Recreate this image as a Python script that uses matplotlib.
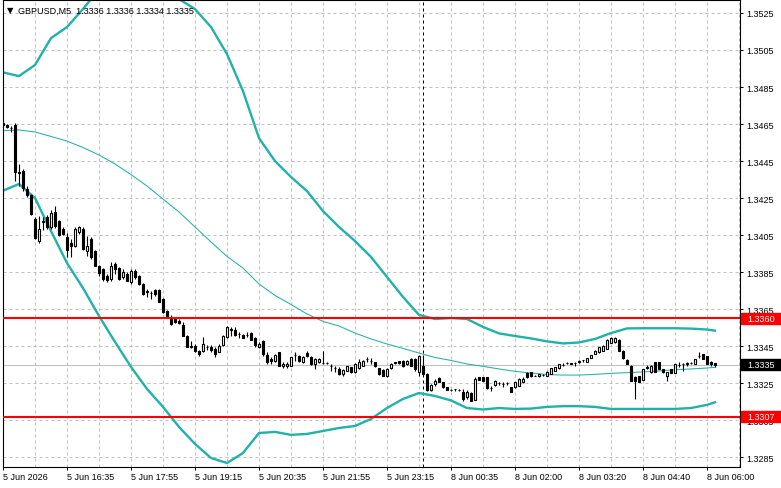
import numpy as np
import matplotlib
matplotlib.use("Agg")
import matplotlib.pyplot as plt
import matplotlib.transforms as mtransforms
from matplotlib.patches import Rectangle

plt.rcParams['font.family'] = ['Liberation Sans', 'DejaVu Sans']

# GBPUSD M5 candles, 5 Jun 15:15 .. 8 Jun 06:10 (bar index 0..178)
opens = [
    1.34655, 1.34645, 1.34628, 1.34645, 1.34391, 1.34396, 1.34299, 1.34266, 1.34137, 1.34020,
    1.34126, 1.34148, 1.34094, 1.34175, 1.34126, 1.34083, 1.34040, 1.34007, 1.33993, 1.34067,
    1.34083, 1.33964, 1.34029, 1.33964, 1.33885, 1.33867, 1.33829, 1.33813, 1.33894, 1.33872,
    1.33824, 1.33840, 1.33795, 1.33858, 1.33831, 1.33786, 1.33748, 1.33737, 1.33753, 1.33755,
    1.33705, 1.33642, 1.33607, 1.33597, 1.33588, 1.33565, 1.33507, 1.33451, 1.33453, 1.33426,
    1.33426, 1.33446, 1.33448, 1.33435, 1.33421, 1.33457, 1.33498, 1.33543, 1.33537, 1.33516,
    1.33511, 1.33512, 1.33521, 1.33493, 1.33448, 1.33480, 1.33403, 1.33381, 1.33372, 1.33417,
    1.33342, 1.33345, 1.33345, 1.33403, 1.33395, 1.33366, 1.33413, 1.33390, 1.33354, 1.33363,
    1.33361, 1.33361, 1.33345, 1.33331, 1.33327, 1.33300, 1.33318, 1.33336, 1.33309, 1.33331,
    1.33345, 1.33381, 1.33372, 1.33363, 1.33331, 1.33324, 1.33287, 1.33331, 1.33363, 1.33368,
    1.33372, 1.33354, 1.33381, 1.33381, 1.33309, 1.33345, 1.33300, 1.33215, 1.33246, 1.33277,
    1.33256, 1.33229, 1.33215, 1.33219, 1.33214, 1.33204, 1.33174, 1.33197, 1.33160, 1.33282,
    1.33282, 1.33282, 1.33225, 1.33241, 1.33251, 1.33246, 1.33251, 1.33229, 1.33229, 1.33237,
    1.33256, 1.33305, 1.33309, 1.33291, 1.33287, 1.33294, 1.33291, 1.33300, 1.33318, 1.33331,
    1.33350, 1.33361, 1.33358, 1.33361, 1.33368, 1.33375, 1.33366, 1.33388, 1.33408, 1.33417,
    1.33426, 1.33435, 1.33467, 1.33471, 1.33485, 1.33426, 1.33377, 1.33345, 1.33282, 1.33287,
    1.33269, 1.33336, 1.33309, 1.33363, 1.33363, 1.33327, 1.33287, 1.33327, 1.33305, 1.33350,
    1.33354, 1.33358, 1.33361, 1.33354, 1.33397, 1.33408, 1.33395, 1.33366, 1.33360,
]
highs = [
    1.34661, 1.34650, 1.34639, 1.34655, 1.34434, 1.34407, 1.34315, 1.34272, 1.34148, 1.34155,
    1.34148, 1.34159, 1.34185, 1.34207, 1.34132, 1.34094, 1.34061, 1.34029, 1.34094, 1.34101,
    1.34094, 1.34047, 1.34040, 1.33970, 1.33889, 1.33872, 1.33840, 1.33903, 1.33903, 1.33878,
    1.33867, 1.33851, 1.33867, 1.33867, 1.33834, 1.33791, 1.33759, 1.33749, 1.33759, 1.33759,
    1.33710, 1.33645, 1.33618, 1.33607, 1.33597, 1.33579, 1.33511, 1.33480, 1.33462, 1.33429,
    1.33498, 1.33457, 1.33457, 1.33444, 1.33462, 1.33511, 1.33558, 1.33552, 1.33552, 1.33525,
    1.33516, 1.33525, 1.33525, 1.33498, 1.33471, 1.33483, 1.33417, 1.33390, 1.33408, 1.33419,
    1.33363, 1.33363, 1.33392, 1.33420, 1.33403, 1.33397, 1.33426, 1.33397, 1.33386, 1.33386,
    1.33426, 1.33366, 1.33354, 1.33345, 1.33336, 1.33327, 1.33345, 1.33338, 1.33361, 1.33381,
    1.33375, 1.33390, 1.33385, 1.33366, 1.33332, 1.33327, 1.33331, 1.33361, 1.33366, 1.33370,
    1.33375, 1.33375, 1.33385, 1.33386, 1.33403, 1.33403, 1.33305, 1.33246, 1.33273, 1.33285,
    1.33257, 1.33230, 1.33219, 1.33219, 1.33217, 1.33219, 1.33215, 1.33201, 1.33282, 1.33283,
    1.33283, 1.33283, 1.33237, 1.33268, 1.33258, 1.33256, 1.33257, 1.33232, 1.33257, 1.33278,
    1.33282, 1.33310, 1.33310, 1.33294, 1.33301, 1.33298, 1.33314, 1.33332, 1.33338, 1.33356,
    1.33361, 1.33362, 1.33361, 1.33366, 1.33377, 1.33377, 1.33386, 1.33404, 1.33428, 1.33446,
    1.33455, 1.33487, 1.33498, 1.33498, 1.33487, 1.33428, 1.33379, 1.33347, 1.33287, 1.33289,
    1.33328, 1.33348, 1.33347, 1.33366, 1.33366, 1.33328, 1.33310, 1.33328, 1.33356, 1.33366,
    1.33361, 1.33363, 1.33366, 1.33383, 1.33417, 1.33410, 1.33397, 1.33372, 1.33360,
]
lows = [
    1.34634, 1.34628, 1.34607, 1.34342, 1.34315, 1.34288, 1.34256, 1.34159, 1.34029, 1.34007,
    1.34078, 1.34083, 1.34083, 1.34088, 1.34045, 1.34050, 1.33932, 1.33932, 1.33986, 1.34056,
    1.33970, 1.33939, 1.33921, 1.33883, 1.33829, 1.33804, 1.33795, 1.33804, 1.33840, 1.33807,
    1.33813, 1.33802, 1.33786, 1.33813, 1.33780, 1.33726, 1.33714, 1.33705, 1.33719, 1.33689,
    1.33629, 1.33609, 1.33565, 1.33575, 1.33570, 1.33504, 1.33446, 1.33439, 1.33421, 1.33399,
    1.33421, 1.33429, 1.33421, 1.33390, 1.33417, 1.33453, 1.33493, 1.33507, 1.33507, 1.33493,
    1.33493, 1.33498, 1.33483, 1.33444, 1.33439, 1.33399, 1.33354, 1.33354, 1.33366, 1.33343,
    1.33331, 1.33331, 1.33342, 1.33372, 1.33363, 1.33361, 1.33392, 1.33348, 1.33327, 1.33361,
    1.33354, 1.33354, 1.33318, 1.33309, 1.33294, 1.33287, 1.33316, 1.33305, 1.33305, 1.33327,
    1.33343, 1.33363, 1.33354, 1.33338, 1.33294, 1.33287, 1.33283, 1.33327, 1.33354, 1.33354,
    1.33338, 1.33348, 1.33342, 1.33318, 1.33291, 1.33289, 1.33208, 1.33209, 1.33237, 1.33256,
    1.33225, 1.33214, 1.33209, 1.33209, 1.33208, 1.33156, 1.33165, 1.33153, 1.33158, 1.33267,
    1.33262, 1.33219, 1.33209, 1.33235, 1.33241, 1.33229, 1.33241, 1.33201, 1.33225, 1.33235,
    1.33251, 1.33278, 1.33283, 1.33287, 1.33285, 1.33289, 1.33289, 1.33298, 1.33316, 1.33328,
    1.33342, 1.33356, 1.33354, 1.33345, 1.33361, 1.33363, 1.33366, 1.33386, 1.33406, 1.33415,
    1.33424, 1.33433, 1.33466, 1.33467, 1.33424, 1.33381, 1.33352, 1.33262, 1.33165, 1.33257,
    1.33267, 1.33327, 1.33307, 1.33310, 1.33325, 1.33307, 1.33264, 1.33304, 1.33304, 1.33336,
    1.33318, 1.33345, 1.33354, 1.33352, 1.33385, 1.33379, 1.33352, 1.33345, 1.33340,
]
closes = [
    1.34645, 1.34634, 1.34626, 1.34391, 1.34385, 1.34304, 1.34266, 1.34164, 1.34034, 1.34083,
    1.34121, 1.34094, 1.34169, 1.34099, 1.34052, 1.34056, 1.33970, 1.33991, 1.34083, 1.34094,
    1.33975, 1.33993, 1.33932, 1.33885, 1.33844, 1.33813, 1.33809, 1.33885, 1.33867, 1.33813,
    1.33851, 1.33804, 1.33858, 1.33822, 1.33786, 1.33732, 1.33744, 1.33735, 1.33732, 1.33690,
    1.33633, 1.33612, 1.33570, 1.33579, 1.33575, 1.33507, 1.33448, 1.33446, 1.33426, 1.33408,
    1.33462, 1.33444, 1.33432, 1.33408, 1.33450, 1.33507, 1.33552, 1.33540, 1.33511, 1.33514,
    1.33496, 1.33511, 1.33485, 1.33457, 1.33462, 1.33408, 1.33366, 1.33370, 1.33403, 1.33345,
    1.33354, 1.33356, 1.33390, 1.33400, 1.33369, 1.33390, 1.33397, 1.33354, 1.33381, 1.33381,
    1.33358, 1.33358, 1.33343, 1.33330, 1.33300, 1.33324, 1.33342, 1.33309, 1.33354, 1.33366,
    1.33372, 1.33379, 1.33370, 1.33342, 1.33300, 1.33291, 1.33327, 1.33354, 1.33361, 1.33358,
    1.33342, 1.33372, 1.33345, 1.33327, 1.33399, 1.33300, 1.33215, 1.33241, 1.33264, 1.33259,
    1.33229, 1.33215, 1.33214, 1.33217, 1.33212, 1.33165, 1.33201, 1.33156, 1.33273, 1.33269,
    1.33264, 1.33223, 1.33223, 1.33264, 1.33250, 1.33244, 1.33250, 1.33204, 1.33256, 1.33273,
    1.33273, 1.33282, 1.33287, 1.33291, 1.33300, 1.33293, 1.33312, 1.33331, 1.33336, 1.33354,
    1.33348, 1.33358, 1.33356, 1.33358, 1.33366, 1.33373, 1.33385, 1.33403, 1.33426, 1.33444,
    1.33453, 1.33485, 1.33493, 1.33493, 1.33426, 1.33385, 1.33354, 1.33264, 1.33264, 1.33259,
    1.33327, 1.33334, 1.33345, 1.33312, 1.33327, 1.33309, 1.33309, 1.33305, 1.33354, 1.33348,
    1.33352, 1.33356, 1.33360, 1.33381, 1.33395, 1.33381, 1.33354, 1.33354, 1.33350,
]

# Bollinger bands, read every 4 bars
band_bars = list(range(0, 177, 4)) + [178]
bb_upper = [
    1.34929, 1.34909, 1.34969, 1.35114, 1.35174, 1.35271, 1.35379, 1.35487, 1.35541, 1.35552,
    1.35514, 1.35325, 1.35271, 1.35174, 1.35028, 1.34828, 1.34574, 1.34450, 1.34364, 1.34288,
    1.34180, 1.34094, 1.34018, 1.33932, 1.33824, 1.33716, 1.33619, 1.33597, 1.33602, 1.33597,
    1.33554, 1.33519, 1.33505, 1.33492, 1.33476, 1.33465, 1.33470, 1.33489, 1.33521, 1.33546,
    1.33547, 1.33547, 1.33547, 1.33545, 1.33540, 1.33534,
]
bb_middle = [
    1.34614, 1.34618, 1.34607, 1.34583, 1.34558, 1.34523, 1.34483, 1.34434, 1.34377, 1.34315,
    1.34245, 1.34175, 1.34094, 1.34013, 1.33935, 1.33872, 1.33786, 1.33724, 1.33675, 1.33624,
    1.33584, 1.33559, 1.33521, 1.33489, 1.33462, 1.33438, 1.33413, 1.33389, 1.33373, 1.33354,
    1.33341, 1.33327, 1.33314, 1.33305, 1.33297, 1.33294, 1.33294, 1.33298, 1.33303, 1.33307,
    1.33311, 1.33316, 1.33323, 1.33327, 1.33332, 1.33336,
]
bb_lower = [
    1.34290, 1.34326, 1.34250, 1.34072, 1.33899, 1.33764, 1.33613, 1.33473, 1.33338, 1.33219,
    1.33122, 1.33014, 1.32922, 1.32846, 1.32819, 1.32873, 1.32981, 1.32987, 1.32971, 1.32976,
    1.32992, 1.33008, 1.33019, 1.33057, 1.33116, 1.33165, 1.33197, 1.33181, 1.33157, 1.33116,
    1.33108, 1.33116, 1.33111, 1.33113, 1.33122, 1.33126, 1.33126, 1.33122, 1.33111, 1.33111,
    1.33111, 1.33111, 1.33111, 1.33116, 1.33133, 1.33147,
]

tick_bars = list(range(0, 177, 16))
tick_labels = ['5 Jun 2026', '5 Jun 16:35', '5 Jun 17:55', '5 Jun 19:15', '5 Jun 20:35',
               '5 Jun 21:55', '5 Jun 23:15', '8 Jun 00:35', '8 Jun 02:00', '8 Jun 03:20',
               '8 Jun 04:40', '8 Jun 06:00']
price_ticks = [1.3285 + 0.002 * k for k in range(13)]
day_start_bar = 105
levels = [1.3360, 1.3307]
bid = 1.3335
title = 'GBPUSD,M5  1.3336 1.3336 1.3334 1.3335'

W, H = 781, 489
fig = plt.figure(figsize=(W / 100, H / 100), dpi=100)
ax = fig.add_axes([2.5 / W, (H - 467.7) / H, (740 - 2.5) / W, (467.7 - 1) / H])
ax.set_xlim(-0.125, 184.25)
ax.set_ylim(1.32799, 1.35320)

band_col = '#20b2aa'
grid_kw = dict(color='#c0c0c0', lw=0.72, ls=(0, (3, 3)), zorder=0)
for p in price_ticks:
    ax.axhline(p, **grid_kw)
for b in range(8, 185, 8):
    ax.axvline(b, **grid_kw)

ax.axvline(day_start_bar, color='black', lw=0.72, ls=(0, (3, 3)), zorder=1)
ax.axhline(bid, color='#c0c0c0', lw=0.75, zorder=1)

ax.plot(band_bars, bb_upper, color=band_col, lw=1.7, zorder=2, solid_joinstyle='round')
ax.plot(band_bars, bb_lower, color=band_col, lw=1.7, zorder=2, solid_joinstyle='round')
ax.plot(band_bars, bb_middle, color=band_col, lw=0.75, zorder=2)

# candles
o = np.array(opens)
c = np.array(closes)
x = np.arange(len(o))
ax.vlines(x, lows, highs, color='black', lw=0.8, zorder=3)
up = c >= o
ax.bar(x, np.abs(c - o), bottom=np.minimum(o, c), width=0.55,
       color=np.where(up, 'white', 'black'), edgecolor='black', linewidth=0.8, zorder=4)

for lv in levels:
    ax.axhline(lv, color='#ff0000', lw=1.5, zorder=5)

for s in ax.spines.values():
    s.set_color('black')
    s.set_linewidth(0.8)

ax.yaxis.tick_right()
ax.set_yticks(price_ticks)
ax.set_yticklabels(['%.4f' % p for p in price_ticks])
ax.set_xticks(tick_bars)
ax.set_xticklabels(tick_labels, ha='left')
ax.tick_params(axis='y', length=2.2, width=0.72, pad=2.6, labelsize=6.5, colors='black')
ax.tick_params(axis='x', length=2.2, width=0.72, pad=1.3, labelsize=6.5, colors='black')

# price labels on the right scale
blend = mtransforms.blended_transform_factory(fig.transFigure, ax.transData)
box_h = 11 / 18513
for lv, col in [(levels[0], '#ff0000'), (levels[1], '#ff0000'), (bid, 'black')]:
    fig.add_artist(Rectangle((741 / W, lv - box_h / 2), 40 / W, box_h,
                             transform=blend, color=col, zorder=5))
    fig.text(747 / W, lv, '%.4f' % lv, transform=blend, color='white',
             fontsize=6.5, va='center', ha='left', zorder=6)

fig.text(6.5 / W, 1 - 10.5 / H, '\u25bc', family='DejaVu Sans', fontsize=6,
         va='center', ha='left')
fig.text(18 / W, 1 - 11 / H, title, fontsize=6.5, va='center', ha='left')

fig.savefig('out.png', dpi=100)
